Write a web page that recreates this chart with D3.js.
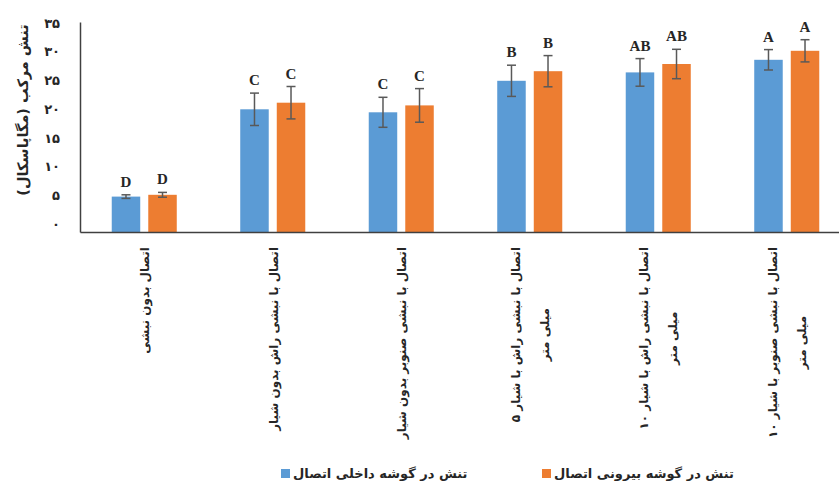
<!DOCTYPE html>
<html>
<head>
<meta charset="utf-8">
<script src="https://cdn.jsdelivr.net/npm/d3@7"></script>
<style>
  body { margin: 0; background: #fff; }
  svg { display: block; }
  .fa { font-family: "DejaVu Sans", sans-serif; font-weight: bold; fill: #262626; }
  .letter { font-family: "Liberation Serif", "Times New Roman", serif; font-weight: bold; font-size: 15px; fill: #262626; }
</style>
</head>
<body>
<div id="chart"></div>
<script>
// categories (Persian labels, split into lines where the original wraps)
const categories = [
  ["اتصال بدون نبشی"],
  ["اتصال با نبشی راش بدون شیار"],
  ["اتصال با نبشی صنوبر بدون شیار"],
  ["اتصال با نبشی راش با شیار ۵", "میلی متر"],
  ["اتصال با نبشی راش با شیار ۱۰", "میلی متر"],
  ["اتصال با نبشی صنوبر با شیار ۱۰", "میلی متر"],
];

const seriesNames = ["تنش در گوشه داخلی اتصال", "تنش در گوشه بیرونی اتصال"];
const seriesColors = ["#5B9BD5", "#ED7D31"];

// values (MPa)
const innerValues = [5.9, 20.45, 19.95, 25.2, 26.6, 28.7];
const outerValues = [6.2, 21.55, 21.1, 26.8, 28.0, 30.2];
const innerErrors = [0.3, 2.7, 2.5, 2.6, 2.3, 1.7];
const outerErrors = [0.4, 2.7, 2.8, 2.6, 2.45, 1.85];
const innerLetters = ["D", "C", "C", "B", "AB", "A"];
const outerLetters = ["D", "C", "C", "B", "AB", "A"];

const yTicks = [0, 5, 10, 15, 20, 25, 30, 35];
const yTitle = "تنش مرکب (مگاپاسکال)";

const width = 839, height = 485;

const svg = d3.select("#chart").append("svg")
  .attr("width", width)
  .attr("height", height);

const x = d3.scaleBand().domain(d3.range(categories.length)).range([80, 851]);
const xSub = d3.scaleBand().domain([0, 1])
  .range([x.bandwidth() * 0.247, x.bandwidth() * 0.753])
  .paddingInner(0.22);
const y = d3.scaleLinear().domain([0, 35]).range([232, 22]);
// tick labels in the original sit slightly compressed against the axis
const yLabel = d3.scaleLinear().domain([0, 35]).range([224, 23]);

const toFa = (s) => String(s).replace(/\d/g, (c) => "۰۱۲۳۴۵۶۷۸۹"[+c]);

// Y tick labels
svg.append("g")
  .attr("transform", "translate(80,0)")
  .call(d3.axisLeft(yLabel).tickValues(yTicks).tickSize(0).tickPadding(20).tickFormat(toFa))
  .call((g) => g.select(".domain").remove())
  .selectAll("text")
  .attr("class", "fa")
  .style("font-size", "13px");

// bars
const series = [
  { values: innerValues, errors: innerErrors, letters: innerLetters },
  { values: outerValues, errors: outerErrors, letters: outerLetters },
];

const rows = [];
series.forEach((s, si) => {
  s.values.forEach((v, i) => {
    rows.push({ i, si, v, e: s.errors[i], letter: s.letters[i] });
  });
});

const bx = (d) => x(d.i) + xSub(d.si);
const cx = (d) => bx(d) + xSub.bandwidth() / 2;

svg.append("g").selectAll("rect")
  .data(rows)
  .join("rect")
  .attr("x", bx)
  .attr("y", (d) => y(d.v))
  .attr("width", xSub.bandwidth())
  .attr("height", (d) => y(0) - y(d.v))
  .attr("fill", (d) => seriesColors[d.si]);

// error bars
const err = svg.append("g")
  .attr("stroke", "#595959")
  .attr("stroke-width", 1.5);

err.selectAll(".stem")
  .data(rows)
  .join("line")
  .attr("x1", cx).attr("x2", cx)
  .attr("y1", (d) => y(d.v + d.e))
  .attr("y2", (d) => y(d.v - d.e));

err.selectAll(".cap-top")
  .data(rows)
  .join("line")
  .attr("x1", (d) => cx(d) - 4.5).attr("x2", (d) => cx(d) + 4.5)
  .attr("y1", (d) => y(d.v + d.e)).attr("y2", (d) => y(d.v + d.e));

err.selectAll(".cap-bot")
  .data(rows)
  .join("line")
  .attr("x1", (d) => cx(d) - 4.5).attr("x2", (d) => cx(d) + 4.5)
  .attr("y1", (d) => y(d.v - d.e)).attr("y2", (d) => y(d.v - d.e));

// significance letters
svg.append("g").selectAll("text")
  .data(rows)
  .join("text")
  .attr("class", "letter")
  .attr("x", cx)
  .attr("y", (d) => y(d.v + d.e) - 8)
  .attr("text-anchor", "middle")
  .text((d) => d.letter);

// axes lines
svg.append("g")
  .attr("transform", "translate(80,0)")
  .call(d3.axisLeft(y).tickValues([]).tickSizeOuter(0))
  .select(".domain")
  .attr("stroke", "#404040")
  .attr("stroke-width", 1.5);

svg.append("g")
  .attr("transform", `translate(0,${y(0)})`)
  .call(d3.axisBottom(x).tickValues([]).tickSizeOuter(0))
  .select(".domain")
  .attr("stroke", "#404040")
  .attr("stroke-width", 1.5);

// category labels, rotated
const labelTop = 247;
categories.forEach((lines, i) => {
  const center = x(i) + x.bandwidth() / 2;
  const offsets = lines.length === 1 ? [1] : [-14, 15];
  const g = svg.append("g");
  const first = g.append("text")
    .attr("class", "fa")
    .style("font-size", "12px")
    .attr("transform", `translate(${center + offsets[0]},${labelTop}) rotate(-90)`)
    .attr("text-anchor", "end")
    .attr("dy", "0.35em")
    .text(lines[0]);
  if (lines.length > 1) {
    const len = first.node().getComputedTextLength();
    g.append("text")
      .attr("class", "fa")
      .style("font-size", "12px")
      .attr("transform", `translate(${center + offsets[1]},${labelTop + len / 2}) rotate(-90)`)
      .attr("text-anchor", "middle")
      .attr("dy", "0.35em")
      .text(lines[1]);
  }
});

// y axis title
svg.append("text")
  .attr("class", "fa")
  .style("font-size", "14.5px")
  .attr("transform", "translate(23,110) rotate(-90)")
  .attr("text-anchor", "middle")
  .attr("dy", "0.35em")
  .text(yTitle);

// legend
const legendX = [281, 542];
const legend = svg.append("g").selectAll("g")
  .data(seriesNames)
  .join("g")
  .attr("transform", (d, i) => `translate(${legendX[i]},469)`);

legend.append("rect")
  .attr("width", 9)
  .attr("height", 9)
  .attr("fill", (d, i) => seriesColors[i]);

legend.append("text")
  .attr("class", "fa")
  .style("font-size", "13px")
  .attr("x", 12)
  .attr("y", 9)
  .text((d) => d);
</script>
</body>
</html>
